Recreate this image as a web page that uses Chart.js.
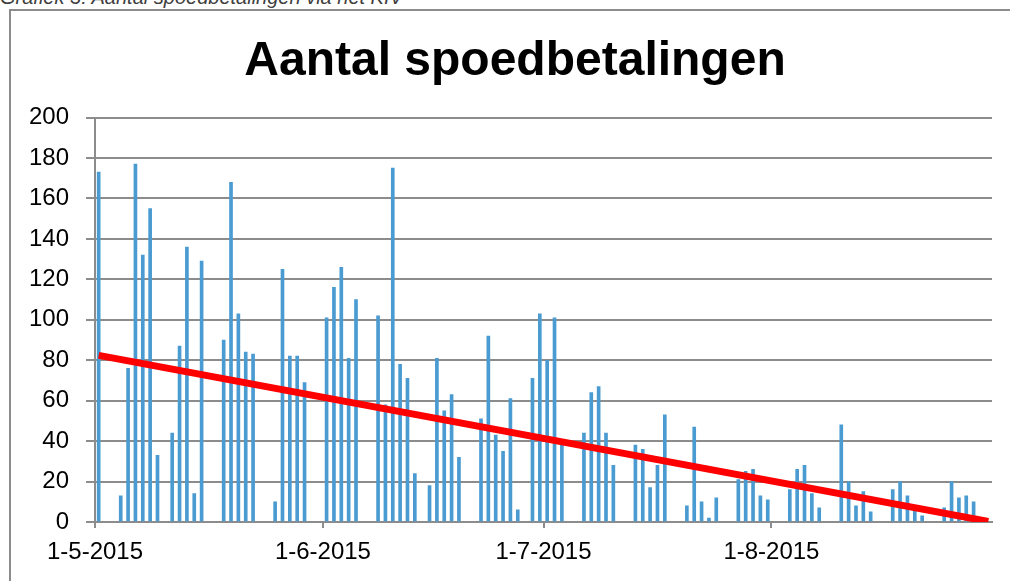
<!DOCTYPE html>
<html>
<head>
<meta charset="utf-8">
<script src="https://cdn.jsdelivr.net/npm/chart.js@4.4.0/dist/chart.umd.min.js"></script>
<style>
  body { margin: 0; width: 1010px; height: 581px; overflow: hidden; background: #fff; font-family: 'Liberation Sans', Arial, sans-serif; position: relative; }
  #kop { position: absolute; left: 0; top: -14px; font-style: italic; font-size: 20px; color: #404040; white-space: nowrap; }
  #kader { position: absolute; left: 9px; top: 9px; width: 1100px; height: 700px; border: 2px solid #8c8c8c; }
  #grafiek { position: absolute; left: 0; top: 11px; }
</style>
</head>
<body>
<div id="kop">Grafiek 3: Aantal spoedbetalingen via het KIV</div>
<div id="kader"></div>
<canvas id="grafiek" width="1030" height="570"></canvas>
<script>
// periode van de as (eind is exclusief)
const periode = ['2015-05-01', '2015-08-31'];

const datums = [
    '2015-05-01', '2015-05-04', '2015-05-05', '2015-05-06', '2015-05-07', '2015-05-08', '2015-05-09',
    '2015-05-11', '2015-05-12', '2015-05-13', '2015-05-14', '2015-05-15',
    '2015-05-18', '2015-05-19', '2015-05-20', '2015-05-21', '2015-05-22',
    '2015-05-25', '2015-05-26', '2015-05-27', '2015-05-28', '2015-05-29',
    '2015-06-01', '2015-06-02', '2015-06-03', '2015-06-04', '2015-06-05',
    '2015-06-08', '2015-06-09', '2015-06-10', '2015-06-11', '2015-06-12', '2015-06-13',
    '2015-06-15', '2015-06-16', '2015-06-17', '2015-06-18', '2015-06-19',
    '2015-06-22', '2015-06-23', '2015-06-24', '2015-06-25', '2015-06-26', '2015-06-27',
    '2015-06-29', '2015-06-30', '2015-07-01', '2015-07-02', '2015-07-03',
    '2015-07-06', '2015-07-07', '2015-07-08', '2015-07-09', '2015-07-10',
    '2015-07-13', '2015-07-14', '2015-07-15', '2015-07-16', '2015-07-17',
    '2015-07-20', '2015-07-21', '2015-07-22', '2015-07-23', '2015-07-24',
    '2015-07-27', '2015-07-28', '2015-07-29', '2015-07-30', '2015-07-31',
    '2015-08-03', '2015-08-04', '2015-08-05', '2015-08-06', '2015-08-07',
    '2015-08-10', '2015-08-11', '2015-08-12', '2015-08-13', '2015-08-14',
    '2015-08-17', '2015-08-18', '2015-08-19', '2015-08-20', '2015-08-21',
    '2015-08-24', '2015-08-25', '2015-08-26', '2015-08-27', '2015-08-28'
];

const aantallen = [
    173, 13, 76, 177, 132, 155, 33,
    44, 87, 136, 14, 129,
    90, 168, 103, 84, 83,
    10, 125, 82, 82, 69,
    101, 116, 126, 81, 110,
    102, 58, 175, 78, 71, 24,
    18, 81, 55, 63, 32,
    51, 92, 43, 35, 61, 6,
    71, 103, 80, 101, 38,
    44, 64, 67, 44, 28,
    38, 36, 17, 28, 53,
    8, 47, 10, 2, 12,
    21, 25, 26, 13, 11,
    16, 26, 28, 14, 7,
    48, 20, 8, 15, 5,
    16, 20, 13, 8, 3,
    7, 20, 12, 13, 10
];

const tickLabels = ['1-5-2015', '1-6-2015', '1-7-2015', '1-8-2015'];

// lineaire trendlijn
const trendDatums = ['2015-05-01', '2015-08-30'];
const trendWaarden = [82.4, 0.3];

const dag = s => Math.round((Date.parse(s) - Date.parse(periode[0])) / 864e5);
const labelDag = l => {
    const [d, m, j] = l.split('-');
    return dag(j + '-' + m.padStart(2, '0') + '-' + d.padStart(2, '0'));
};

const grijs = '#8c8c8c';
const lettertype = 'Liberation Sans';

const ctx = document.getElementById('grafiek');
new Chart(ctx, {
    type: 'bar',
    data: {
        datasets: [{
            label: 'Aantal',
            data: datums.map((d, i) => ({ x: dag(d) + 0.5, y: aantallen[i] })),
            backgroundColor: '#4a9bd1',
            barThickness: 3,
            order: 2
        }, {
            type: 'line',
            label: 'Trend',
            data: trendDatums.map((d, i) => ({ x: dag(d) + 0.5, y: trendWaarden[i] })),
            borderColor: '#ff0000',
            borderWidth: 7,
            pointRadius: 0,
            order: 1
        }]
    },
    options: {
        responsive: false,
        animation: false,
        layout: { padding: 0 },
        plugins: {
            legend: { display: false },
            tooltip: { enabled: false },
            title: {
                display: true,
                text: 'Aantal spoedbetalingen',
                color: '#000',
                font: { family: lettertype, size: 48, weight: 'bold' },
                padding: { top: 22, bottom: 27 }
            }
        },
        scales: {
            x: {
                type: 'linear',
                offset: false,
                min: 0,
                max: dag(periode[1]),
                afterBuildTicks: s => { s.ticks = tickLabels.map(l => ({ value: labelDag(l) })); },
                afterFit: s => { s.height = 59; },
                ticks: {
                    autoSkip: false,
                    maxRotation: 0,
                    padding: 10,
                    color: '#000',
                    font: { family: lettertype, size: 24 },
                    callback: (v, i) => tickLabels[i]
                },
                grid: { offset: false, drawOnChartArea: false, drawTicks: true, tickLength: 6, color: grijs, lineWidth: 2 },
                border: { display: true, color: grijs, width: 2 }
            },
            y: {
                min: 0,
                max: 200,
                afterFit: s => { s.width = 95; },
                ticks: {
                    stepSize: 20,
                    padding: 17,
                    color: '#000',
                    font: { family: lettertype, size: 24 }
                },
                grid: { color: grijs, lineWidth: 2, tickLength: 9 },
                border: { display: true, color: grijs, width: 2 }
            },
            // lege ruimte rechts zodat de titel goed gecentreerd staat
            rechts: {
                position: 'right',
                afterFit: s => { s.width = 38; },
                ticks: { display: false },
                grid: { display: false },
                border: { display: false }
            }
        }
    }
});
</script>
</body>
</html>
